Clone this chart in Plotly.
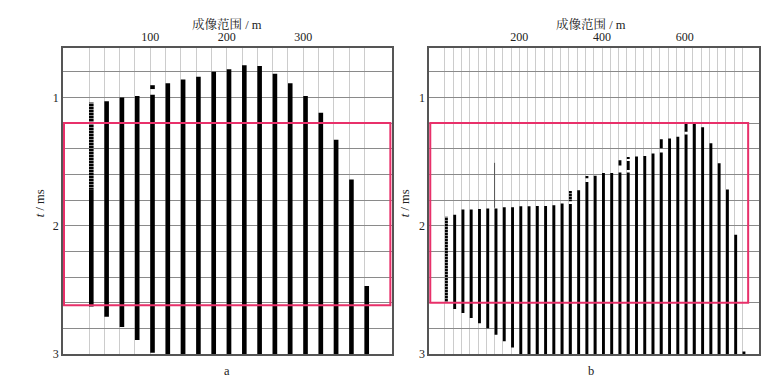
import plotly.graph_objects as go

# ---------------- Panel a data ----------------
a_x = [20, 40, 60, 80, 100, 120, 140, 160, 180, 200, 220, 240, 260, 280, 300, 320, 340, 360, 380]
a_top = [1.72, 1.03, 1.00, 0.99, 0.98, 0.89, 0.86, 0.84, 0.80, 0.78, 0.75, 0.755, 0.815, 0.89, 0.99, 1.12, 1.33, 1.64, 2.47]
a_bottom = [2.63, 2.71, 2.79, 2.89, 2.99, 3.0, 3.0, 3.0, 3.0, 3.0, 3.0, 3.0, 3.0, 3.0, 3.0, 3.0, 3.0, 3.0, 3.0]
a_stripe_x = [20]
a_stripe_top = [1.04]
a_stripe_bottom = [1.72]
a_frag_x = [100]
a_frag_top = [0.905]
a_frag_bottom = [0.935]

# ---------------- Panel b data ----------------
b_x = [40, 60, 80, 100, 120, 140, 160, 180, 200, 220, 240, 260, 280, 300, 320, 340, 360, 380,
       400, 420, 440, 460, 480, 500, 520, 540, 560, 580, 600, 620, 640, 660, 680, 700, 720, 740]
b_top = [1.915, 1.874, 1.874, 1.87, 1.865, 1.865, 1.857, 1.857, 1.848, 1.848, 1.846, 1.846, 1.84, 1.827, 1.83, 1.723, 1.66, 1.61,
         1.59, 1.59, 1.585, 1.585, 1.46, 1.457, 1.437, 1.43, 1.32, 1.306, 1.29, 1.197, 1.233, 1.358, 1.514, 1.717, 2.07, 2.98]
b_bottom = [2.65, 2.68, 2.72, 2.76, 2.80, 2.85, 2.90, 2.95, 3.0, 3.0, 3.0, 3.0, 3.0, 3.0, 3.0, 3.0, 3.0, 3.0,
            3.0, 3.0, 3.0, 3.0, 3.0, 3.0, 3.0, 3.0, 3.0, 3.0, 3.0, 3.0, 3.0, 3.0, 3.0, 3.0, 3.0, 3.0]
b_stripe_x = [20, 320]
b_stripe_top = [1.93, 1.73]
b_stripe_bottom = [2.60, 1.81]
b_frag_x = [360, 440, 460, 460, 540, 600]
b_frag_top = [1.615, 1.49, 1.47, 1.495, 1.327, 1.20]
b_frag_bottom = [1.63, 1.53, 1.48, 1.565, 1.397, 1.267]
b_line_x = [140]
b_line_top = [1.51]
b_line_bottom = [1.86]

# ---------------- Axis labels ----------------
a_grid_x = list(range(20, 400, 20))
b_grid_x = list(range(20, 760, 20))
x_labels = {100: "100", 200: "200", 300: "300", 400: "400", 600: "600"}
a_label_set = [100, 200, 300]
b_label_set = [200, 400, 600]
y_grid = [0.8, 1.0, 1.2, 1.4, 1.6, 1.8, 2.0, 2.2, 2.4, 2.6, 2.8, 3.0]
y_labels = {1.0: "1", 2.0: "2", 3.0: "3"}

FONT = "Liberation Serif, Noto Serif CJK SC, Noto Sans CJK SC, serif"
PINK = "#e8306a"
BLACK = "#000000"


def seg(xs, tops, bottoms, xa, ya, width, stripe=False):
    marker = dict(color=BLACK, line=dict(width=0))
    if stripe:
        marker["pattern"] = dict(shape="-", fgcolor="white", bgcolor=BLACK,
                                 size=3, solidity=0.35, fillmode="overlay")
    return go.Bar(x=xs, y=[b - t for t, b in zip(tops, bottoms)], base=tops,
                  width=width, offset=0, marker=marker, xaxis=xa, yaxis=ya,
                  showlegend=False, hoverinfo="skip")


fig = go.Figure()
fig.add_trace(seg(a_x, a_top, a_bottom, "x", "y", 6))
fig.add_trace(seg(a_stripe_x, a_stripe_top, a_stripe_bottom, "x", "y", 6, stripe=True))
fig.add_trace(seg(a_frag_x, a_frag_top, a_frag_bottom, "x", "y", 6))

fig.add_trace(seg(b_x, b_top, b_bottom, "x2", "y2", 7))
fig.add_trace(seg(b_stripe_x, b_stripe_top, b_stripe_bottom, "x2", "y2", 7, stripe=True))
fig.add_trace(seg(b_frag_x, b_frag_top, b_frag_bottom, "x2", "y2", 7))
for lx, lt, lb in zip(b_line_x, b_line_top, b_line_bottom):
    fig.add_trace(go.Scatter(x=[lx, lx], y=[lt, lb], mode="lines",
                             line=dict(color="#555555", width=1),
                             xaxis="x2", yaxis="y2", showlegend=False, hoverinfo="skip"))

common_x = dict(side="top", showgrid=True, gridcolor="#cccccc", gridwidth=1,
                showline=True, linecolor="#555555", linewidth=1.5, mirror=True,
                ticks="", zeroline=False, tickfont=dict(family=FONT, size=12, color="#222"),
                fixedrange=True)
common_y = dict(range=[3.0, 0.615], tickvals=y_grid,
                ticktext=[y_labels.get(v, "") for v in y_grid],
                showgrid=True, gridcolor="#8a8a8a", gridwidth=1,
                showline=True, linecolor="#555555", linewidth=1.5, mirror=True,
                ticks="", zeroline=False, tickfont=dict(family=FONT, size=12, color="#222"),
                fixedrange=True)

fig.update_layout(
    width=775, height=380,
    margin=dict(l=0, r=0, t=48, b=26),
    paper_bgcolor="white", plot_bgcolor="white",
    barmode="overlay",
    showlegend=False,
    xaxis=dict(domain=[0.0813, 0.5058], range=[-14, 416], anchor="y",
               tickvals=a_grid_x, ticktext=[x_labels[v] if v in a_label_set else "" for v in a_grid_x],
               **common_x),
    yaxis=dict(domain=[0, 1], anchor="x", **common_y),
    xaxis2=dict(domain=[0.5539, 0.9794], range=[-18, 780], anchor="y2",
                tickvals=b_grid_x, ticktext=[x_labels[v] if v in b_label_set else "" for v in b_grid_x],
                **common_x),
    yaxis2=dict(domain=[0, 1], anchor="x2", **common_y),
)

# pink boxes
fig.add_shape(type="rect", xref="x domain", yref="y", x0=0.003, x1=0.995, y0=1.2, y1=2.62,
              line=dict(color=PINK, width=2), fillcolor="rgba(0,0,0,0)", layer="above")
fig.add_shape(type="rect", xref="x2 domain", yref="y2", x0=0.003, x1=0.967, y0=1.2, y1=2.6,
              line=dict(color=PINK, width=2), fillcolor="rgba(0,0,0,0)", layer="above")

ann_font = dict(family=FONT, size=12.5, color="#222")
for xc, lab in [(227.5 / 775, "a"), (591 / 775, "b")]:
    fig.add_annotation(xref="paper", yref="paper", x=xc, y=(354 - 24) / 306, text="成像范围 / m",
                       showarrow=False, font=ann_font, xanchor="center", yanchor="middle")
    fig.add_annotation(xref="paper", yref="paper", x=xc, y=(354 - 371) / 306, text=lab,
                       showarrow=False, font=ann_font, xanchor="center", yanchor="middle")
for xc in [40 / 775, 405 / 775]:
    fig.add_annotation(xref="paper", yref="paper", x=xc, y=0.493, text="<i>t</i> / ms",
                       textangle=-90, showarrow=False, font=ann_font,
                       xanchor="center", yanchor="middle")

fig.write_html("out.html", config={"displayModeBar": False},
               post_script="document.body.style.margin='0px';document.body.style.padding='0px';")
